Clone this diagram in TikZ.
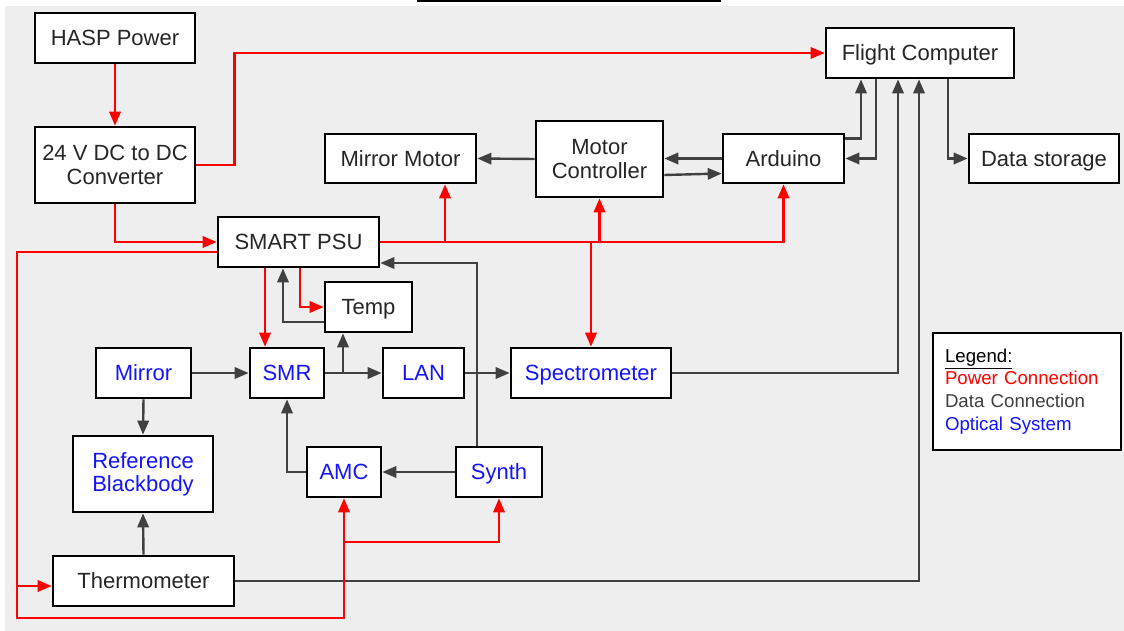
\documentclass[tikz,border=0pt]{standalone}
\usepackage{fontspec}
\setmainfont{Liberation Sans}
\usetikzlibrary{arrows.meta,calc}
\definecolor{bggray}{HTML}{EEEEEE}
\definecolor{datgray}{HTML}{404040}
\definecolor{optblue}{HTML}{1414FF}
\definecolor{pwrred}{HTML}{FF0000}

\begin{document}
\begin{tikzpicture}[x=0.75pt, y=-0.75pt,
    mbox/.style={draw=black, line width=2pt, fill=white, inner sep=2pt, align=center,
        font=\fontsize{16.5}{17.5}\selectfont, text=black!85},
    box/.style={mbox, text height=11.8pt, text depth=0pt},
    mopt/.style={mbox, text=optblue},
    opt/.style={box, text=optblue},
    legbox/.style={draw=black, line width=2pt, fill=white, minimum width=141pt,
        minimum height=87.75pt, text width=123pt, inner xsep=9pt, align=left,
        font=\fontsize{14}{17}\selectfont},
    pwr/.style={draw=pwrred, line width=1.8pt, -{Triangle[length=10.5pt,width=8.5pt]}},
    dat/.style={draw=datgray, line width=1.8pt, -{Triangle[length=10.5pt,width=8.5pt]}}]

    % 背景
    \useasboundingbox (0,0) rectangle (1124,631);
    \fill[bggray] (5,6) rectangle (1124,631);
    \draw[line width=1.5pt] (417,1) -- (721,1);

    % 電源系
    \node[box, minimum width=120pt, minimum height=37.5pt] (hasp) at (115,38) {HASP Power};
    \node[mbox, minimum width=120pt, minimum height=57pt] (conv) at (115,165) {24 V DC to DC\\Converter};
    \node[box, minimum width=120.75pt, minimum height=37.5pt] (psu) at (298.5,242) {SMART PSU};
    \node[box, minimum width=65.25pt, minimum height=37.5pt] (temp) at (368.5,307) {Temp};

    % モータ・計算機
    \node[box, minimum width=113.25pt, minimum height=36.75pt] (mmotor) at (400.5,158.5) {Mirror Motor};
    \node[mbox, minimum width=95.25pt, minimum height=57pt] (mctrl) at (599.5,159) {Motor\\Controller};
    \node[box, minimum width=90.75pt, minimum height=36.75pt] (ard) at (783.5,158.5) {Arduino};
    \node[box, minimum width=141pt, minimum height=37.5pt] (fc) at (920,53) {Flight Computer};
    \node[box, minimum width=112.5pt, minimum height=36.75pt] (store) at (1044,158.5) {Data storage};

    % 光学系
    \node[opt, minimum width=71.25pt, minimum height=37.5pt] (mirror) at (143.5,373) {Mirror};
    \node[opt, minimum width=55.5pt, minimum height=37.5pt] (smr) at (287,373) {SMR};
    \node[opt, minimum width=60.75pt, minimum height=37.5pt] (lan) at (423.5,373) {LAN};
    \node[opt, minimum width=120pt, minimum height=37.5pt] (spec) at (591,373) {Spectrometer};
    \node[mopt, minimum width=105pt, minimum height=57pt] (refbb) at (143,474) {Reference\\Blackbody\vphantom{R}\smash{\vphantom{y}}};
    \node[opt, minimum width=55.5pt, minimum height=37.5pt] (amc) at (344,472) {AMC};
    \node[opt, minimum width=64.5pt, minimum height=37.5pt] (synth) at (499,472) {Synth};
    \node[box, minimum width=135.75pt, minimum height=37.5pt] (therm) at (143.5,581) {Thermometer};

    % 凡例
    \node[legbox] (legend) at (1027,391.5) {\underline{Legend:}\\
        \textcolor{pwrred}{Power Connection}\\
        \textcolor{datgray}{Data Connection}\\
        \textcolor{optblue}{Optical System}};

    % データ線
    \draw[dat] (mctrl.west) -- (mmotor.east);
    \draw[dat] (ard.west) -- (ard.west -| mctrl.east);
    \draw[dat] ($(mctrl.east)+(0,16)$) -- ($(ard.west)+(0,15)$);
    \draw[dat] ($(ard.east)+(0,-20)$) -| (861,0 |- fc.south);
    \draw[dat] (876,0 |- fc.south) |- (ard.east);
    \draw[dat] (948,0 |- fc.south) |- (store.west);
    \draw[dat] (spec.east) -| (898,0 |- fc.south);
    \draw[dat] (therm.east) -| (919,0 |- fc.south);
    \draw[dat] ($(temp.west)+(0,15)$) -| (283,0 |- psu.south);
    \draw[dat] (mirror.east) -- (smr.west);
    \draw[dat] (smr.east) -- (lan.west);
    \draw[dat] (smr.east -| 343,0) -- (343,0 |- temp.south);
    \draw[dat] (lan.east) -- (spec.west);
    \draw[dat] (477,0 |- synth.north) |- ($(psu.east)+(0,21)$);
    \draw[dat] (synth.west) -- (amc.east);
    \draw[dat] (amc.west) -| (smr.south);
    \draw[dat] (mirror.south) -- (refbb.north);
    \draw[dat] (therm.north) -- (refbb.south);

    % 電源線
    \draw[pwr] (hasp.south) -- (conv.north);
    \draw[pwr] (conv.east) -- ++(38,0) |- (fc.west);
    \draw[pwr] (conv.south) |- (psu.west);
    \draw[pwr] ($(psu.west)+(0,10)$) -| (17,618) -| (amc.south);
    \coordinate (thb) at (17,586);
    \draw[pwr] (thb) -- (thb -| therm.west);
    \draw[pwr] (344,542) -| (synth.south);
    \draw[pwr] (psu.east) -| (ard.south);
    \draw[pwr] (445,0 |- psu.east) -- (445,0 |- mmotor.south);
    \draw[pwr] (psu.east -| mctrl.south) -- (mctrl.south);
    \draw[pwr] (psu.east -| spec.north) -- (spec.north);
    \draw[pwr] (265,0 |- psu.south) -- (265,0 |- smr.north);
    \draw[pwr] (300,0 |- psu.south) |- (temp.west);

\end{tikzpicture}
\end{document}
